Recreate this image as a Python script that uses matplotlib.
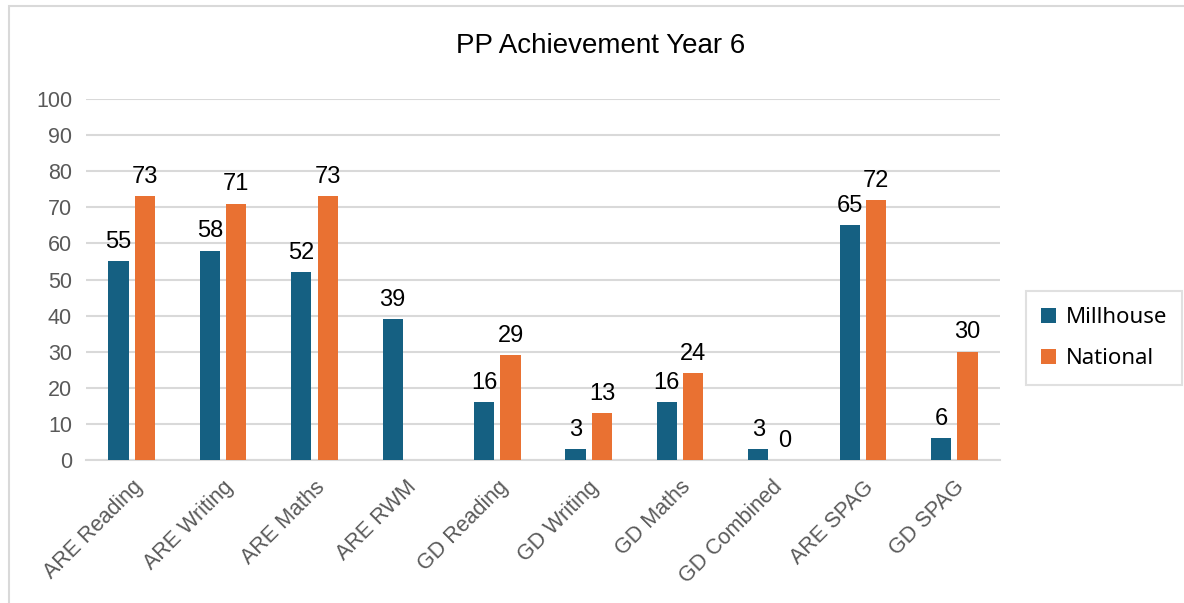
import matplotlib.pyplot as plt
import numpy as np
from matplotlib.patches import Rectangle

categories = ['ARE Reading', 'ARE Writing', 'ARE Maths', 'ARE RWM', 'GD Reading',
              'GD Writing', 'GD Maths', 'GD Combined', 'ARE SPAG', 'GD SPAG']
millhouse = [55, 58, 52, 39, 16, 3, 16, 3, 65, 6]
national = [73, 71, 73, None, 29, 13, 24, 0, 72, 30]
yticks = list(range(0, 101, 10))

blue = '#156082'
orange = '#E97132'

plt.rcParams['font.family'] = ['Liberation Sans', 'DejaVu Sans']

fig = plt.figure(figsize=(11.84, 6.03), dpi=100)
ax = fig.add_axes([86 / 1184, 1 - 460 / 603, 914 / 1184, 361 / 603])

x = np.arange(len(categories))
w = 0.22
gap = 0.035
nat_vals = [v if v is not None else 0 for v in national]
ax.bar(x - w / 2 - gap, millhouse, w, color=blue, label='Millhouse', zorder=3)
ax.bar(x + w / 2 + gap, nat_vals, w, color=orange, label='National', zorder=3)

for xi, v in zip(x, millhouse):
    ax.text(xi - w / 2 - gap, v + 2.3, str(v), ha='center', va='bottom', fontsize=17)
for xi, v in zip(x, national):
    if v is None:
        continue
    ax.text(xi + w / 2 + gap, v + 2.3, str(v), ha='center', va='bottom', fontsize=17)

ax.set_xlim(-0.5, len(categories) - 0.5)
ax.set_ylim(0, 100)
ax.set_yticks(yticks)
ax.set_yticklabels([str(t) for t in yticks], fontsize=15.5, color='#595959')
ax.set_xticks(x)
ax.set_xticklabels(categories, rotation=45, ha='right', rotation_mode='anchor',
                   fontsize=15.5, color='#595959')
ax.tick_params(length=0, pad=10)
ax.tick_params(axis='x', pad=12)
ax.grid(axis='y', color='#d9d9d9', linewidth=1.5, zorder=0)
for s in ['top', 'right', 'left']:
    ax.spines[s].set_visible(False)
ax.spines['bottom'].set_color('#d9d9d9')
ax.spines['bottom'].set_linewidth(1.5)

fig.text(601 / 1184, 1 - 46 / 603, 'PP Achievement Year 6', ha='center', va='center', fontsize=20)

leg = fig.legend(loc='center', bbox_to_anchor=(1104 / 1184, 1 - 338 / 603),
                 prop={'family': 'Noto Sans', 'size': 16}, handlelength=0.65,
                 handleheight=0.65, labelspacing=0.9, borderpad=0.7,
                 fancybox=False, edgecolor='#d9d9d9', handletextpad=0.45)
leg.get_frame().set_linewidth(1.5)

fig.patches.append(Rectangle((9 / 1184, -0.05), 1.2, 1 - 6 / 603 + 0.05,
                             transform=fig.transFigure, fill=False,
                             edgecolor='#d9d9d9', linewidth=1.5))

fig.savefig('out.png', dpi=100)
